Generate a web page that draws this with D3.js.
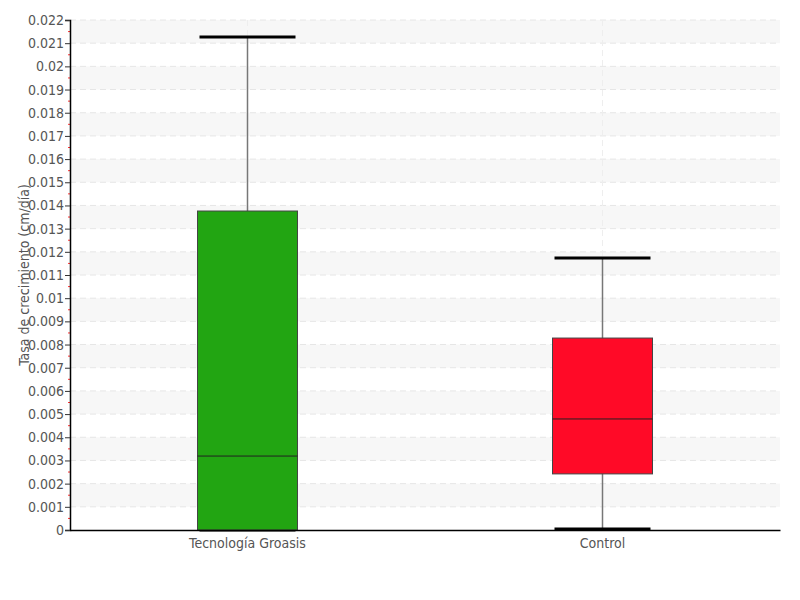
<!DOCTYPE html>
<html lang="es">
<head>
<meta charset="UTF-8">
<title>Tasa de crecimiento</title>
<script src="https://cdn.jsdelivr.net/npm/d3@7"></script>
<style>
  body { margin: 0; background: #fff; }
  text { font-family: "DejaVu Sans Condensed", "DejaVu Sans", sans-serif; font-stretch: condensed; fill: #555; }
</style>
</head>
<body>
<svg id="chart" width="800" height="600"></svg>
<script>
// data
const categories = ['Tecnología Groasis', 'Control'];
const whiskerLow = [0, 0.00004];
const q1 = [0, 0.00242];
const median = [0.00319, 0.00479];
const q3 = [0.01376, 0.00828];
const whiskerHigh = [0.02127, 0.01173];
const boxColors = ['#22a512', '#ff0a27'];
const yTicks = d3.range(0, 0.0225, 0.001);

const svg = d3.select('#chart');
const margin = { top: 20, right: 20, bottom: 70, left: 70 };
const width = 800 - margin.left - margin.right;
const height = 600 - margin.top - margin.bottom;

const g = svg.append('g').attr('transform', `translate(${margin.left},${margin.top})`);

const x = d3.scaleBand().domain(categories).range([0, width]).padding(0);
const y = d3.scaleLinear().domain([0, 0.022]).range([height, 0]);

// alternating bands
g.selectAll('.band')
  .data(yTicks.filter((d, i) => i % 2 === 1 && i < yTicks.length - 1))
  .enter().append('rect')
  .attr('x', 0)
  .attr('width', width)
  .attr('y', d => y(d + 0.001))
  .attr('height', d => y(d) - y(d + 0.001))
  .attr('fill', '#f7f7f7');

// horizontal grid
g.selectAll('.hgrid')
  .data(yTicks.slice(1))
  .enter().append('line')
  .attr('x1', 0).attr('x2', width)
  .attr('y1', d => y(d)).attr('y2', d => y(d))
  .attr('stroke', '#e6e6e6')
  .attr('stroke-dasharray', '6,4');

// vertical grid
g.selectAll('.vgrid')
  .data(categories)
  .enter().append('line')
  .attr('x1', d => x(d) + x.bandwidth() / 2)
  .attr('x2', d => x(d) + x.bandwidth() / 2)
  .attr('y1', 0).attr('y2', height)
  .attr('stroke', '#eeeeee')
  .attr('stroke-dasharray', '6,4');

// minor red ticks
g.selectAll('.minor')
  .data(yTicks.slice(0, -1).map(d => d + 0.0005))
  .enter().append('line')
  .attr('x1', -2).attr('x2', 0)
  .attr('y1', d => y(d)).attr('y2', d => y(d))
  .attr('stroke', '#ff3030')
  .attr('stroke-width', 1);

const boxW = 100;
const capW = 96;

categories.forEach((c, i) => {
  const cx = x(c) + x.bandwidth() / 2;
  // whisker line
  g.append('line')
    .attr('x1', cx).attr('x2', cx)
    .attr('y1', y(whiskerLow[i])).attr('y2', y(whiskerHigh[i]))
    .attr('stroke', '#777')
    .attr('stroke-width', 1.5);
  // caps (the low cap hides behind the box when it sits on q1)
  [whiskerLow[i], whiskerHigh[i]].forEach(v => {
    g.append('line')
      .attr('x1', cx - capW / 2).attr('x2', cx + capW / 2)
      .attr('y1', y(v)).attr('y2', y(v))
      .attr('stroke', '#000')
      .attr('stroke-width', 3);
  });
  // box
  g.append('rect')
    .attr('x', cx - boxW / 2)
    .attr('width', boxW)
    .attr('y', y(q3[i]))
    .attr('height', y(q1[i]) - y(q3[i]))
    .attr('fill', boxColors[i])
    .attr('stroke', '#444')
    .attr('stroke-width', 1);
  // median
  g.append('line')
    .attr('x1', cx - boxW / 2).attr('x2', cx + boxW / 2)
    .attr('y1', y(median[i])).attr('y2', y(median[i]))
    .attr('stroke', '#222')
    .attr('stroke-width', 1);
});

// y axis
const yAxis = g.append('g')
  .call(d3.axisLeft(y).tickValues(yTicks).tickSize(5).tickFormat(d => d3.format('.3~f')(d)));
yAxis.select('.domain').attr('stroke', '#000').attr('stroke-width', 1.5);
yAxis.selectAll('.tick line').attr('stroke', '#333');
yAxis.selectAll('.tick text').attr('font-size', 14).attr('x', -6).style('fill', '#555');

// x axis
const xAxis = g.append('g')
  .attr('transform', `translate(0,${height})`)
  .call(d3.axisBottom(x).tickSize(0).tickPadding(8));
xAxis.select('.domain').attr('stroke', '#000').attr('stroke-width', 1.5);
xAxis.selectAll('.tick text').attr('font-size', 14).style('fill', '#555');

// y title
svg.append('text')
  .attr('transform', 'translate(29,275) rotate(-90)')
  .attr('text-anchor', 'middle')
  .attr('font-size', 14)
  .text('Tasa de crecimiento (cm/día)');
</script>
</body>
</html>
